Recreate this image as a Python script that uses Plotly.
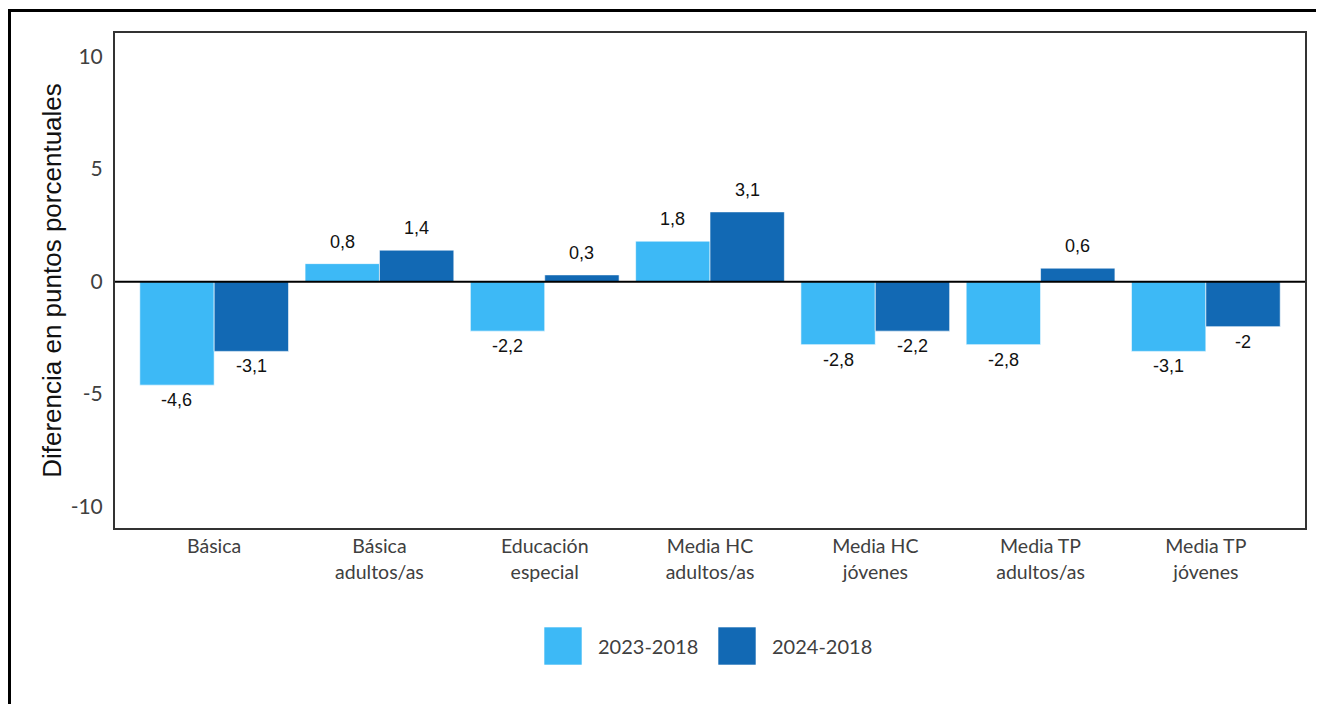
import plotly.graph_objects as go

categories = ["Básica", "Básica<br>adultos/as", "Educación<br>especial", "Media HC<br>adultos/as",
              "Media HC<br>jóvenes", "Media TP<br>adultos/as", "Media TP<br>jóvenes"]
series_names = ["2023-2018", "2024-2018"]
values_2023 = [-4.6, 0.8, -2.2, 1.8, -2.8, -2.8, -3.1]
values_2024 = [-3.1, 1.4, 0.3, 3.1, -2.2, 0.6, -2.0]
y_ticks = [-10, -5, 0, 5, 10]
colors = ["#3DB9F6", "#1269B4"]


def fmt(v):
    return ("%g" % v).replace(".", ",")


BARGAP = 0.1
n_series = 2
bar_w = (1 - BARGAP) / n_series

x_idx = list(range(len(categories)))
fig = go.Figure()
annotations = []
for k, (name, vals, col) in enumerate(zip(series_names, [values_2023, values_2024], colors)):
    fig.add_trace(go.Bar(
        x=x_idx, y=vals, name=name, marker=dict(color=col, line=dict(color="rgba(255,255,255,0.6)", width=1)),
        showlegend=False,
    ))
    off = (k - (n_series - 1) / 2) * bar_w
    for i, v in zip(x_idx, vals):
        annotations.append(dict(
            xref="x", yref="y", x=i + off, y=v, text=fmt(v), showarrow=False,
            yanchor="bottom" if v >= 0 else "top", yshift=10 if v >= 0 else -3,
            font=dict(family="Liberation Sans, Arial", size=18, color="#111111")))

OFF = 8  # page body margin
FW, FH = 1324 - OFF, 704 - OFF
W_L, W_R, T, B = 115, 1305, 33, 528
pw, ph = W_R - W_L, B - T


def px(x):
    return (x - W_L) / pw


def py(y):
    return (B - y) / ph


shapes = [
    dict(type="line", xref="paper", yref="paper", x0=px(9.5), x1=px(9.5), y0=py(10.5), y1=py(720),
         line=dict(color="black", width=3)),
    dict(type="line", xref="paper", yref="paper", x0=px(8), x1=px(1340), y0=py(10.5), y1=py(10.5),
         line=dict(color="black", width=3)),
    dict(type="line", xref="paper", yref="y", x0=0, x1=1, y0=0, y1=0, line=dict(color="black", width=2), layer="above"),
]
legend_items = [(544, 582, 596), (718, 756, 770)]
for (x0, x1, tx), name, col in zip(legend_items, series_names, colors):
    shapes.append(dict(type="rect", xref="paper", yref="paper", x0=px(x0), x1=px(x1), y0=py(665), y1=py(627),
                       fillcolor=col, line=dict(color="rgba(255,255,255,0.6)", width=1)))
    annotations.append(dict(xref="paper", yref="paper", x=px(tx), y=py(646), text=name, showarrow=False,
                            xanchor="left", yanchor="middle",
                            font=dict(family="Lato, Carlito, sans-serif", size=20, color="#404040")))

fig.update_layout(
    width=FW, height=FH,
    margin=dict(l=W_L - OFF, r=1324 - W_R, t=T - OFF, b=704 - B, pad=0),
    paper_bgcolor="white", plot_bgcolor="white",
    barmode="group", bargap=BARGAP, bargroupgap=0,
    shapes=shapes, annotations=annotations,
    xaxis=dict(tickvals=x_idx, ticktext=categories, range=[-0.6, 6.6], showgrid=False, zeroline=False,
               showline=True, mirror=True, linecolor="#333333", linewidth=2, ticks="",
               tickfont=dict(family="Lato, Carlito, sans-serif", size=19.5, color="#404040")),
    yaxis=dict(range=[-10.95, 11.05], tickvals=y_ticks, ticktext=[str(t) for t in y_ticks],
               showgrid=False, zeroline=False, showline=True, mirror=True, linecolor="#333333", linewidth=2,
               ticks="", ticklabelstandoff=6,
               tickfont=dict(family="Lato, Carlito, sans-serif", size=21, color="#404040"),
               title=dict(text="Diferencia en puntos porcentuales", standoff=2,
                          font=dict(family="Liberation Sans, Arial", size=26, color="#111111"))),
)

fig.write_html("out.html")
